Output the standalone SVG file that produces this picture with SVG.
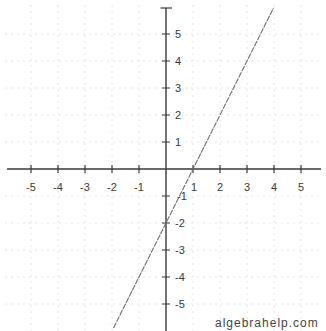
<svg xmlns="http://www.w3.org/2000/svg" width="326" height="331" viewBox="0 0 326 331">
<style>
.grid{stroke:#e4e4e4;stroke-width:1;stroke-dasharray:2 4;fill:none}
.axis{stroke:#3a3a3a;stroke-width:1.4;fill:none}
.tick{stroke:#3a3a3a;stroke-width:1.2}
.lbl{font-family:"Liberation Sans",Arial,sans-serif;font-size:11px;fill:#3a3a3a}
.xl{text-anchor:middle}
.plot{stroke:#707070;stroke-width:1.1;fill:none;stroke-dasharray:6 1}
.brand{font-family:"Liberation Sans",Arial,sans-serif;font-size:12px;fill:#444;letter-spacing:1px}
</style>
<rect width="326" height="331" fill="#ffffff"/>
<g id="grid" class="grid">
<path d="M31 5V331M58 5V331M85 5V331M112 5V331M139 5V331M193 5V331M220 5V331M247 5V331M274 5V331M301 5V331"/>
<path d="M5 34H321M5 61H321M5 88H321M5 115H321M5 142H321M5 196H321M5 223H321M5 250H321M5 277H321M5 304H321"/>
</g>
<g id="axes">
<line class="axis" x1="7" y1="169" x2="321" y2="169"/>
<line class="axis" x1="166" y1="8" x2="166" y2="331"/>
<line class="tick" x1="160.5" y1="8" x2="172" y2="8"/>
<path class="tick" d="M31 165V173M58 165V173M85 165V173M112 165V173M139 165V173M193 165V173M220 165V173M247 165V173M274 165V173M301 165V173"/>
<path class="tick" d="M162 34H170M162 61H170M162 88H170M162 115H170M162 142H170M162 196H170M162 223H170M162 250H170M162 277H170M162 304H170"/>
</g>
<g id="x-labels" class="lbl xl">
<text x="31" y="191">-5</text>
<text x="58" y="191">-4</text>
<text x="85" y="191">-3</text>
<text x="112" y="191">-2</text>
<text x="139" y="191">-1</text>
<text x="194" y="191">1</text>
<text x="220" y="191">2</text>
<text x="247" y="191">3</text>
<text x="274" y="191">4</text>
<text x="301" y="191">5</text>
</g>
<g id="y-labels" class="lbl">
<text x="175" y="38">5</text>
<text x="175" y="65">4</text>
<text x="175" y="92">3</text>
<text x="175" y="119">2</text>
<text x="175" y="146">1</text>
<text x="177" y="200">-1</text>
<text x="175" y="227">-2</text>
<text x="175" y="254">-3</text>
<text x="175" y="281">-4</text>
<text x="175" y="308">-5</text>
</g>
<g id="plot">
<line class="plot" x1="113.5" y1="328" x2="273.5" y2="8"/>
</g>
<g id="brand">
<text class="brand" x="215" y="327">algebrahelp.com</text>
</g>
</svg>
